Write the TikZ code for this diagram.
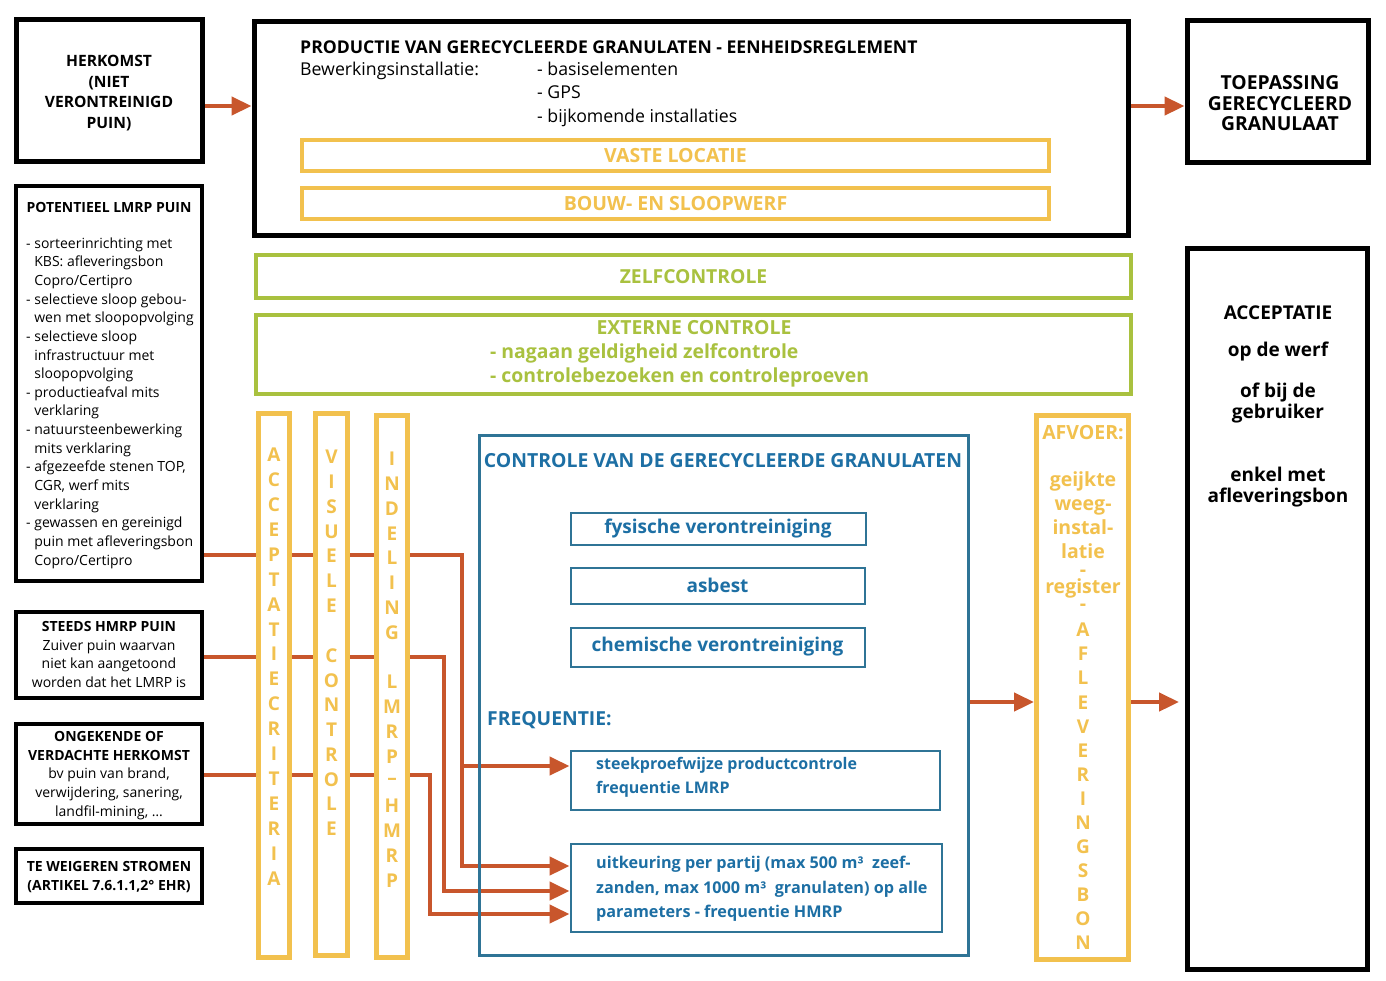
\documentclass[tikz,border=0pt]{standalone}
\usepackage{fontspec}
\setmainfont{Open Sans}
\usetikzlibrary{arrows.meta}

\definecolor{oranje}{HTML}{C8562C}
\definecolor{geel}{HTML}{F2C14E}
\definecolor{groen}{HTML}{A9C13F}
\definecolor{blauw}{HTML}{2F7496}
\definecolor{blauwtekst}{HTML}{1D6FA4}

\newcommand\fsz[2]{\fontsize{#1}{#2}\selectfont}

\tikzset{
    kader/.style={draw, inner sep=0pt, fill=white},
    zwartkader/.style={kader, line width=5pt},
    dunkader/.style={kader, line width=4pt},
    geelkader/.style={kader, draw=geel, line width=4pt},
    groenkader/.style={kader, draw=groen, line width=4pt},
    balk/.style={kader, draw=geel, line width=5pt},
    blauwkader/.style={draw=blauw, line width=2pt, inner sep=0pt, fill=white},
    pijl/.style={draw=oranje, line width=4.5pt, -{Triangle[length=20pt, width=18pt]}},
    tekst/.style={inner sep=0pt, align=center},
    balkletter/.style={tekst, text=geel, font=\bfseries\fsz{19}{20}},
}

\begin{document}
\begin{tikzpicture}[x=1pt, y=-1pt]
            \useasboundingbox (0,0) rectangle (1386,980);

            % zwarte kaders
            \node[zwartkader, minimum width=186pt, minimum height=142pt] (herkomst) at (109,90) {};
            \node[tekst, font=\bfseries\fsz{15.6}{20.7}] (herkomsttekst) at (109,93) {HERKOMST\\(NIET\\VERONTREINIGD\\PUIN)};

            \node[zwartkader, minimum width=874pt, minimum height=214pt] (productie) at (691,128) {};
            \node[tekst, anchor=west, font=\bfseries\fsz{17.6}{20}] (productietitel) at (300,47) {PRODUCTIE VAN GERECYCLEERDE GRANULATEN - EENHEIDSREGLEMENT};
            \node[tekst, anchor=base west, font=\fsz{17.7}{20}] (bewerking) at (300,75) {Bewerkingsinstallatie:};
            \foreach \onderdeel/\y [count=\i] in {basiselementen/75, GPS/98, bijkomende installaties/122}
                \node[tekst, anchor=base west, font=\fsz{17.7}{20}] (onderdeel\i) at (537,\y) {- \onderdeel};

            \node[geelkader, minimum width=747pt, minimum height=31pt, text=geel, font=\bfseries\fsz{19.5}{20}] (vast) at (675.5,155.5) {VASTE LOCATIE};
            \node[geelkader, minimum width=747pt, minimum height=31pt, text=geel, font=\bfseries\fsz{19.5}{20}] (werf) at (675.5,203.5) {BOUW- EN SLOOPWERF};

            \node[zwartkader, minimum width=181pt, minimum height=142pt] (toepassing) at (1277.5,91) {};
            \node[tekst, font=\bfseries\fsz{19.3}{20.5}] (toepassingtekst) at (1280,103.5) {TOEPASSING\\GERECYCLEERD\\GRANULAAT};

            \node[dunkader, minimum width=186pt, minimum height=395pt] (potentieel) at (109,383.5) {};
            \node[tekst, font=\bfseries\fsz{14}{17}] (potentieeltitel) at (109,207) {POTENTIEEL LMRP PUIN};
            \node[tekst, anchor=west, align=left, font=\fsz{14}{18.65}] (potentieellijst) at (26,403) {%
                - sorteerinrichting met\\ \hphantom{- }KBS: afleveringsbon\\ \hphantom{- }Copro/Certipro\\
                - selectieve sloop gebou-\\ \hphantom{- }wen met sloopopvolging\\
                - selectieve sloop\\ \hphantom{- }infrastructuur met\\ \hphantom{- }sloopopvolging\\
                - productieafval mits\\ \hphantom{- }verklaring\\
                - natuursteenbewerking\\ \hphantom{- }mits verklaring\\
                - afgezeefde stenen TOP,\\ \hphantom{- }CGR, werf mits\\ \hphantom{- }verklaring\\
                - gewassen en gereinigd\\ \hphantom{- }puin met afleveringsbon\\ \hphantom{- }Copro/Certipro};

            \node[dunkader, minimum width=186pt, minimum height=86pt] (hmrp) at (109,655) {};
            \node[tekst, font=\fsz{14}{18.7}] (hmrptekst) at (109,654.5) {\textbf{STEEDS HMRP PUIN}\\Zuiver puin waarvan\\niet kan aangetoond\\worden dat het LMRP is};

            \node[dunkader, minimum width=186pt, minimum height=100pt] (ongekend) at (109,774) {};
            \node[tekst, font=\fsz{14}{18.7}] (ongekendtekst) at (109,775.5) {\textbf{ONGEKENDE OF}\\\textbf{VERDACHTE HERKOMST}\\bv puin van brand,\\verwijdering, sanering,\\landfil-mining, \dots};

            \node[dunkader, minimum width=186pt, minimum height=54pt] (weigeren) at (109,876) {};
            \node[tekst, font=\bfseries\fsz{14}{19}] (weigerentekst) at (109,877) {TE WEIGEREN STROMEN\\(ARTIKEL 7.6.1.1,2° EHR)};

            \node[zwartkader, minimum width=180pt, minimum height=721pt] (acceptatie) at (1277.5,609) {};
            \foreach \regel/\y [count=\i] in {ACCEPTATIE/319, op de werf/356, of bij de/397, gebruiker/418, enkel met/481, afleveringsbon/502}
                \node[tekst, anchor=base, font=\bfseries\fsz{19}{20}] (acceptatie\i) at (1278,\y) {\regel};

            % controle
            \node[groenkader, minimum width=875pt, minimum height=43pt, text=groen, font=\bfseries\fsz{19.3}{20}] (zelf) at (693.5,276.5) {ZELFCONTROLE};
            \node[groenkader, minimum width=875pt, minimum height=79pt] (extern) at (693.5,354.5) {};
            \node[tekst, text=groen, font=\bfseries\fsz{19.4}{20}] (externtitel) at (694,328) {EXTERNE CONTROLE};
            \node[tekst, anchor=base west, text=groen, font=\bfseries\fsz{19.4}{20}] (extern1) at (490,358) {- nagaan geldigheid zelfcontrole};
            \node[tekst, anchor=base west, text=groen, font=\bfseries\fsz{19.4}{20}] (extern2) at (490,382) {- controlebezoeken en controleproeven};

            % stromen
            \draw[pijl] (herkomst.east |- 0,106) -- (productie.west |- 0,106);
            \draw[pijl] (productie.east |- 0,106) -- (toepassing.west |- 0,106);

            \node[blauwkader, minimum width=369pt, minimum height=59pt] (steekproef) at (755,780) {};
            \node[blauwkader, minimum width=371pt, minimum height=88pt] (uitkeuring) at (756,887.5) {};

            \draw[pijl] (potentieel.east |- 0,555) -| (462,866) -- (uitkeuring.west |- 0,866);
            \draw[pijl] (462,766) -- (steekproef.west |- 0,766);
            \draw[pijl] (hmrp.east |- 0,657) -| (444,891) -- (uitkeuring.west |- 0,891);
            \draw[pijl] (ongekend.east |- 0,775) -| (430,914) -- (uitkeuring.west |- 0,914);

            % balken
            \node[balk, minimum width=31pt, minimum height=544pt] (criteria) at (274,685.5) {};
            \node[balk, minimum width=32pt, minimum height=542pt] (visueel) at (331.5,684.5) {};
            \node[balk, minimum width=31pt, minimum height=542pt] (indeling) at (392,686.5) {};
            \foreach \letter [count=\i from 0] in {A,C,C,E,P,T,A,T,I,E,C,R,I,T,E,R,I,A}
                \node[balkletter] (criteria\i) at (274,455+24.9*\i) {\letter};
            \foreach \letter [count=\i from 0] in {V,I,S,U,E,L,E,{},C,O,N,T,R,O,L,E}
                \node[balkletter] (visueel\i) at (331.5,457+24.8*\i) {\letter};
            \foreach \letter [count=\i from 0] in {I,N,D,E,L,I,N,G,{},L,M,R,P,–,H,M,R,P}
                \node[balkletter] (indeling\i) at (392,459+24.8*\i) {\letter};

            % controle van de granulaten
            \node[draw=blauw, line width=3pt, inner sep=0pt, minimum width=489pt, minimum height=520pt] (controle) at (724,695.5) {};
            \node[tekst, text=blauwtekst, font=\bfseries\fsz{19.4}{20}] (controletitel) at (723,461) {CONTROLE VAN DE GERECYCLEERDE GRANULATEN};
            \node[blauwkader, minimum width=295pt, minimum height=32pt, text=blauwtekst, font=\bfseries\fsz{19}{20}] (fysisch) at (718,528.5) {fysische verontreiniging};
            \node[blauwkader, minimum width=294pt, minimum height=36pt, text=blauwtekst, font=\bfseries\fsz{19}{20}] (asbest) at (717.5,585.5) {asbest};
            \node[blauwkader, minimum width=294pt, minimum height=39pt, text=blauwtekst, font=\bfseries\fsz{19}{20}] (chemisch) at (717.5,647) {chemische verontreiniging};
            \node[tekst, anchor=west, text=blauwtekst, font=\bfseries\fsz{19.3}{20}] (frequentie) at (487,720) {FREQUENTIE:};
            \node[tekst, anchor=west, align=left, text=blauwtekst, font=\bfseries\fsz{16}{24}] (steekproeftekst) at (596,777) {steekproefwijze productcontrole\\frequentie LMRP};
            \node[tekst, anchor=west, align=left, text=blauwtekst, font=\bfseries\fsz{16.2}{24.5}] (uitkeuringtekst) at (596,889) {uitkeuring per partij (max 500 m³\ \ zeef-\\zanden, max 1000 m³\ \ granulaten) op alle\\parameters - frequentie HMRP};

            % afvoer
            \node[balk, minimum width=92pt, minimum height=544pt] (afvoer) at (1082.5,687.5) {};
            \node[tekst, text=geel, font=\bfseries\fsz{19.5}{20}] (afvoertitel) at (1083,433) {AFVOER:};
            \foreach \woord/\y [count=\i] in {geijkte/486, weeg-/510, instal-/534, latie/558, -/576, register/593, -/610}
                \node[tekst, anchor=base, text=geel, font=\bfseries\fsz{19.5}{20}] (afvoer\i) at (1083,\y) {\woord};
            \foreach \letter [count=\i from 0] in {A,F,L,E,V,E,R,I,N,G,S,B,O,N}
                \node[balkletter] (bon\i) at (1083,630+24.08*\i) {\letter};

            \draw[pijl] (controle.east |- 0,702) -- (afvoer.west |- 0,702);
            \draw[pijl, shorten >=6pt] (afvoer.east |- 0,702) -- (acceptatie.west |- 0,702);
        \end{tikzpicture}
\end{document}
